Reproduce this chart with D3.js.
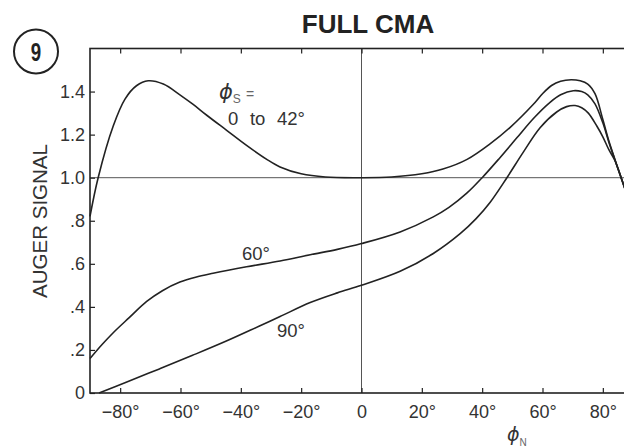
<!DOCTYPE html>
<html>
<head>
<meta charset="utf-8">
<script src="https://cdn.jsdelivr.net/npm/d3@7/dist/d3.min.js"></script>
<style>
  body { margin: 0; background: #fff; }
  svg { display: block; font-family: "Liberation Sans", Arial, sans-serif; }
</style>
</head>
<body>
<div id="chartContainer"></div>
<script>

// axis ticks
var xTicks = [-80, -60, -40, -20, 0, 20, 40, 60, 80];
var yTicks = [0, 0.2, 0.4, 0.6, 0.8, 1.0, 1.2, 1.4];
var yTickLabels = ["0", ".2", ".4", ".6", ".8", "1.0", "1.2", "1.4"];

// phi_S = 0 to 42 deg
var phiN_0to42 = [-90, -87.3, -82.3, -78.4, -74.6, -70.7, -65.7, -60.2, -55.8, -51.3, -44.7, -38.1, -31.4, -27, -20, -12, 0, 10, 20, 27, 35, 42.6, 49.3, 56.9, 60, 63, 66, 69.5, 72.5, 75, 77.4, 80, 82, 84, 86.3, 90];
var signal_0to42 = [0.82, 1.0, 1.24, 1.365, 1.427, 1.45, 1.435, 1.385, 1.34, 1.29, 1.22, 1.15, 1.085, 1.05, 1.018, 1.003, 1.0, 1.003, 1.018, 1.04, 1.085, 1.157, 1.234, 1.34, 1.39, 1.428, 1.448, 1.455, 1.45, 1.435, 1.39, 1.27, 1.17, 1.085, 0.99, 0.84];

// phi_S = 60 deg
var phiN_60 = [-90, -86, -82.3, -77, -71.2, -66, -60.2, -55, -49.2, -38.1, -27, -17, -8, 0, 12.8, 23.8, 29, 34.9, 40, 45.9, 51.5, 57, 62.5, 66, 70.2, 73, 75, 77.4, 80, 82, 84, 86.3, 90];
var signal_60 = [0.16, 0.225, 0.28, 0.35, 0.425, 0.475, 0.515, 0.538, 0.556, 0.586, 0.613, 0.642, 0.667, 0.694, 0.748, 0.818, 0.862, 0.928, 1.0, 1.093, 1.185, 1.275, 1.35, 1.385, 1.404, 1.4, 1.385, 1.343, 1.255, 1.165, 1.083, 0.99, 0.84];

// phi_S = 90 deg
var phiN_90 = [-87, -78, -67, -56, -45, -34, -27, -17, -8, 0, 12.8, 23.8, 32.7, 38, 42.6, 48.2, 53.7, 59.2, 64.7, 68, 70.8, 73, 75.2, 78, 80, 82, 84, 86.3, 90];
var signal_90 = [0, 0.05, 0.112, 0.175, 0.24, 0.31, 0.355, 0.42, 0.465, 0.5, 0.565, 0.648, 0.74, 0.81, 0.885, 1.0, 1.12, 1.232, 1.305, 1.33, 1.335, 1.325, 1.3, 1.24, 1.19, 1.13, 1.08, 0.99, 0.84];

var cfg = {
  w: 624,
  h: 448,
  left: 90,
  right: 633,
  top: 48.5,
  bot: 393
};

var textColor = "#333";
var lineColor = "#222";

var svg = d3.select("#chartContainer").append("svg")
  .attr("width", cfg.w)
  .attr("height", cfg.h);

var x = d3.scaleLinear()
  .domain([-90, 90])
  .range([cfg.left, cfg.right]);

var y = d3.scaleLinear()
  .domain([0, 1.6])
  .range([cfg.bot, cfg.top]);

// reference lines at signal 1.0 and phi_N 0
svg.append("line")
  .attr("x1", cfg.left).attr("x2", cfg.right)
  .attr("y1", y(1.0)).attr("y2", y(1.0))
  .style("stroke", "#555").style("stroke-width", 1);

svg.append("line")
  .attr("x1", x(0)).attr("x2", x(0))
  .attr("y1", cfg.top).attr("y2", cfg.bot)
  .style("stroke", "#555").style("stroke-width", 1);

// axes, ticks pointing inward
function fmtX(d) {
  if (d === 0) return "0";
  return (d < 0 ? "\u2212" + (-d) : d) + "\u00b0";
}

var xAxis = svg.append("g")
  .attr("transform", "translate(0," + cfg.bot + ")")
  .call(d3.axisBottom(x).tickValues(xTicks).tickSizeInner(-5).tickSizeOuter(0).tickPadding(12).tickFormat(fmtX));

var xAxisTop = svg.append("g")
  .attr("transform", "translate(0," + cfg.top + ")")
  .call(d3.axisTop(x).tickValues(xTicks).tickSizeInner(-5).tickSizeOuter(0).tickFormat(""));

var yAxis = svg.append("g")
  .attr("transform", "translate(" + cfg.left + ",0)")
  .call(d3.axisLeft(y).tickValues(yTicks).tickSizeInner(-5).tickSizeOuter(0).tickPadding(5)
    .tickFormat(function(d, i) { return yTickLabels[i]; }));

[xAxis, xAxisTop, yAxis].forEach(function(a) {
  a.select(".domain").remove();
  a.selectAll(".tick line").style("stroke", lineColor).style("stroke-width", 1.2);
  a.selectAll(".tick text")
    .style("font-family", "'Liberation Sans', Arial, sans-serif")
    .style("font-size", "18px")
    .style("fill", textColor);
});

// frame
svg.append("rect")
  .attr("x", cfg.left)
  .attr("y", cfg.top)
  .attr("width", cfg.right - cfg.left)
  .attr("height", cfg.bot - cfg.top)
  .style("fill", "none")
  .style("stroke", lineColor)
  .style("stroke-width", 1.6);

// curves
var line = d3.line()
  .x(function(d) { return x(d[0]); })
  .y(function(d) { return y(d[1]); })
  .curve(d3.curveCatmullRom.alpha(0.5));

var series = [
  d3.zip(phiN_0to42, signal_0to42),
  d3.zip(phiN_60, signal_60),
  d3.zip(phiN_90, signal_90)
];

svg.selectAll(".curve")
  .data(series)
  .enter().append("path")
  .attr("class", "curve")
  .attr("d", line)
  .style("fill", "none")
  .style("stroke", lineColor)
  .style("stroke-width", 1.6);

// title
svg.append("text")
  .attr("x", 368)
  .attr("y", 33)
  .attr("text-anchor", "middle")
  .style("font-size", "26px")
  .style("font-weight", "bold")
  .style("fill", "#222")
  .text("FULL CMA");

// figure number
svg.append("circle")
  .attr("cx", 36).attr("cy", 51.5).attr("r", 22)
  .style("fill", "none").style("stroke", "#222").style("stroke-width", 2);

svg.append("text")
  .attr("transform", "translate(36,61) scale(0.72,1)")
  .attr("text-anchor", "middle")
  .style("font-weight", "bold")
  .style("font-size", "26px")
  .style("fill", "#222")
  .text("9");

// y axis title
svg.append("text")
  .attr("transform", "translate(47,221) rotate(-90)")
  .attr("text-anchor", "middle")
  .style("font-size", "20.5px")
  .style("fill", textColor)
  .text("AUGER SIGNAL");

// curve labels
var phiS = svg.append("text")
  .attr("x", 219).attr("y", 99)
  .style("fill", textColor);
phiS.append("tspan")
  .style("font-family", "'DejaVu Sans', sans-serif")
  .style("font-style", "italic")
  .style("font-size", "21px")
  .text("\u03d5");
phiS.append("tspan")
  .attr("dy", 4)
  .style("font-size", "12px")
  .style("fill", "#666")
  .text("S");
phiS.append("tspan")
  .attr("dy", -4)
  .attr("dx", 5)
  .style("font-size", "14px")
  .style("fill", "#666")
  .text("=");

svg.append("text")
  .attr("x", 228).attr("y", 125)
  .style("font-size", "18.5px")
  .style("word-spacing", "6.5px")
  .style("fill", textColor)
  .text("0 to 42\u00b0");

svg.append("text")
  .attr("x", 242).attr("y", 260)
  .style("font-size", "18.5px")
  .style("fill", textColor)
  .text("60\u00b0");

svg.append("text")
  .attr("x", 277).attr("y", 337)
  .style("font-size", "18.5px")
  .style("fill", textColor)
  .text("90\u00b0");

// x axis title
var phiNLabel = svg.append("text")
  .attr("x", 507).attr("y", 441)
  .style("fill", textColor);
phiNLabel.append("tspan")
  .style("font-family", "'DejaVu Sans', sans-serif")
  .style("font-style", "italic")
  .style("font-size", "19px")
  .text("\u03d5");
phiNLabel.append("tspan")
  .attr("dy", 5)
  .style("font-size", "10px")
  .style("fill", "#666")
  .text("N");

</script>
</body>
</html>
